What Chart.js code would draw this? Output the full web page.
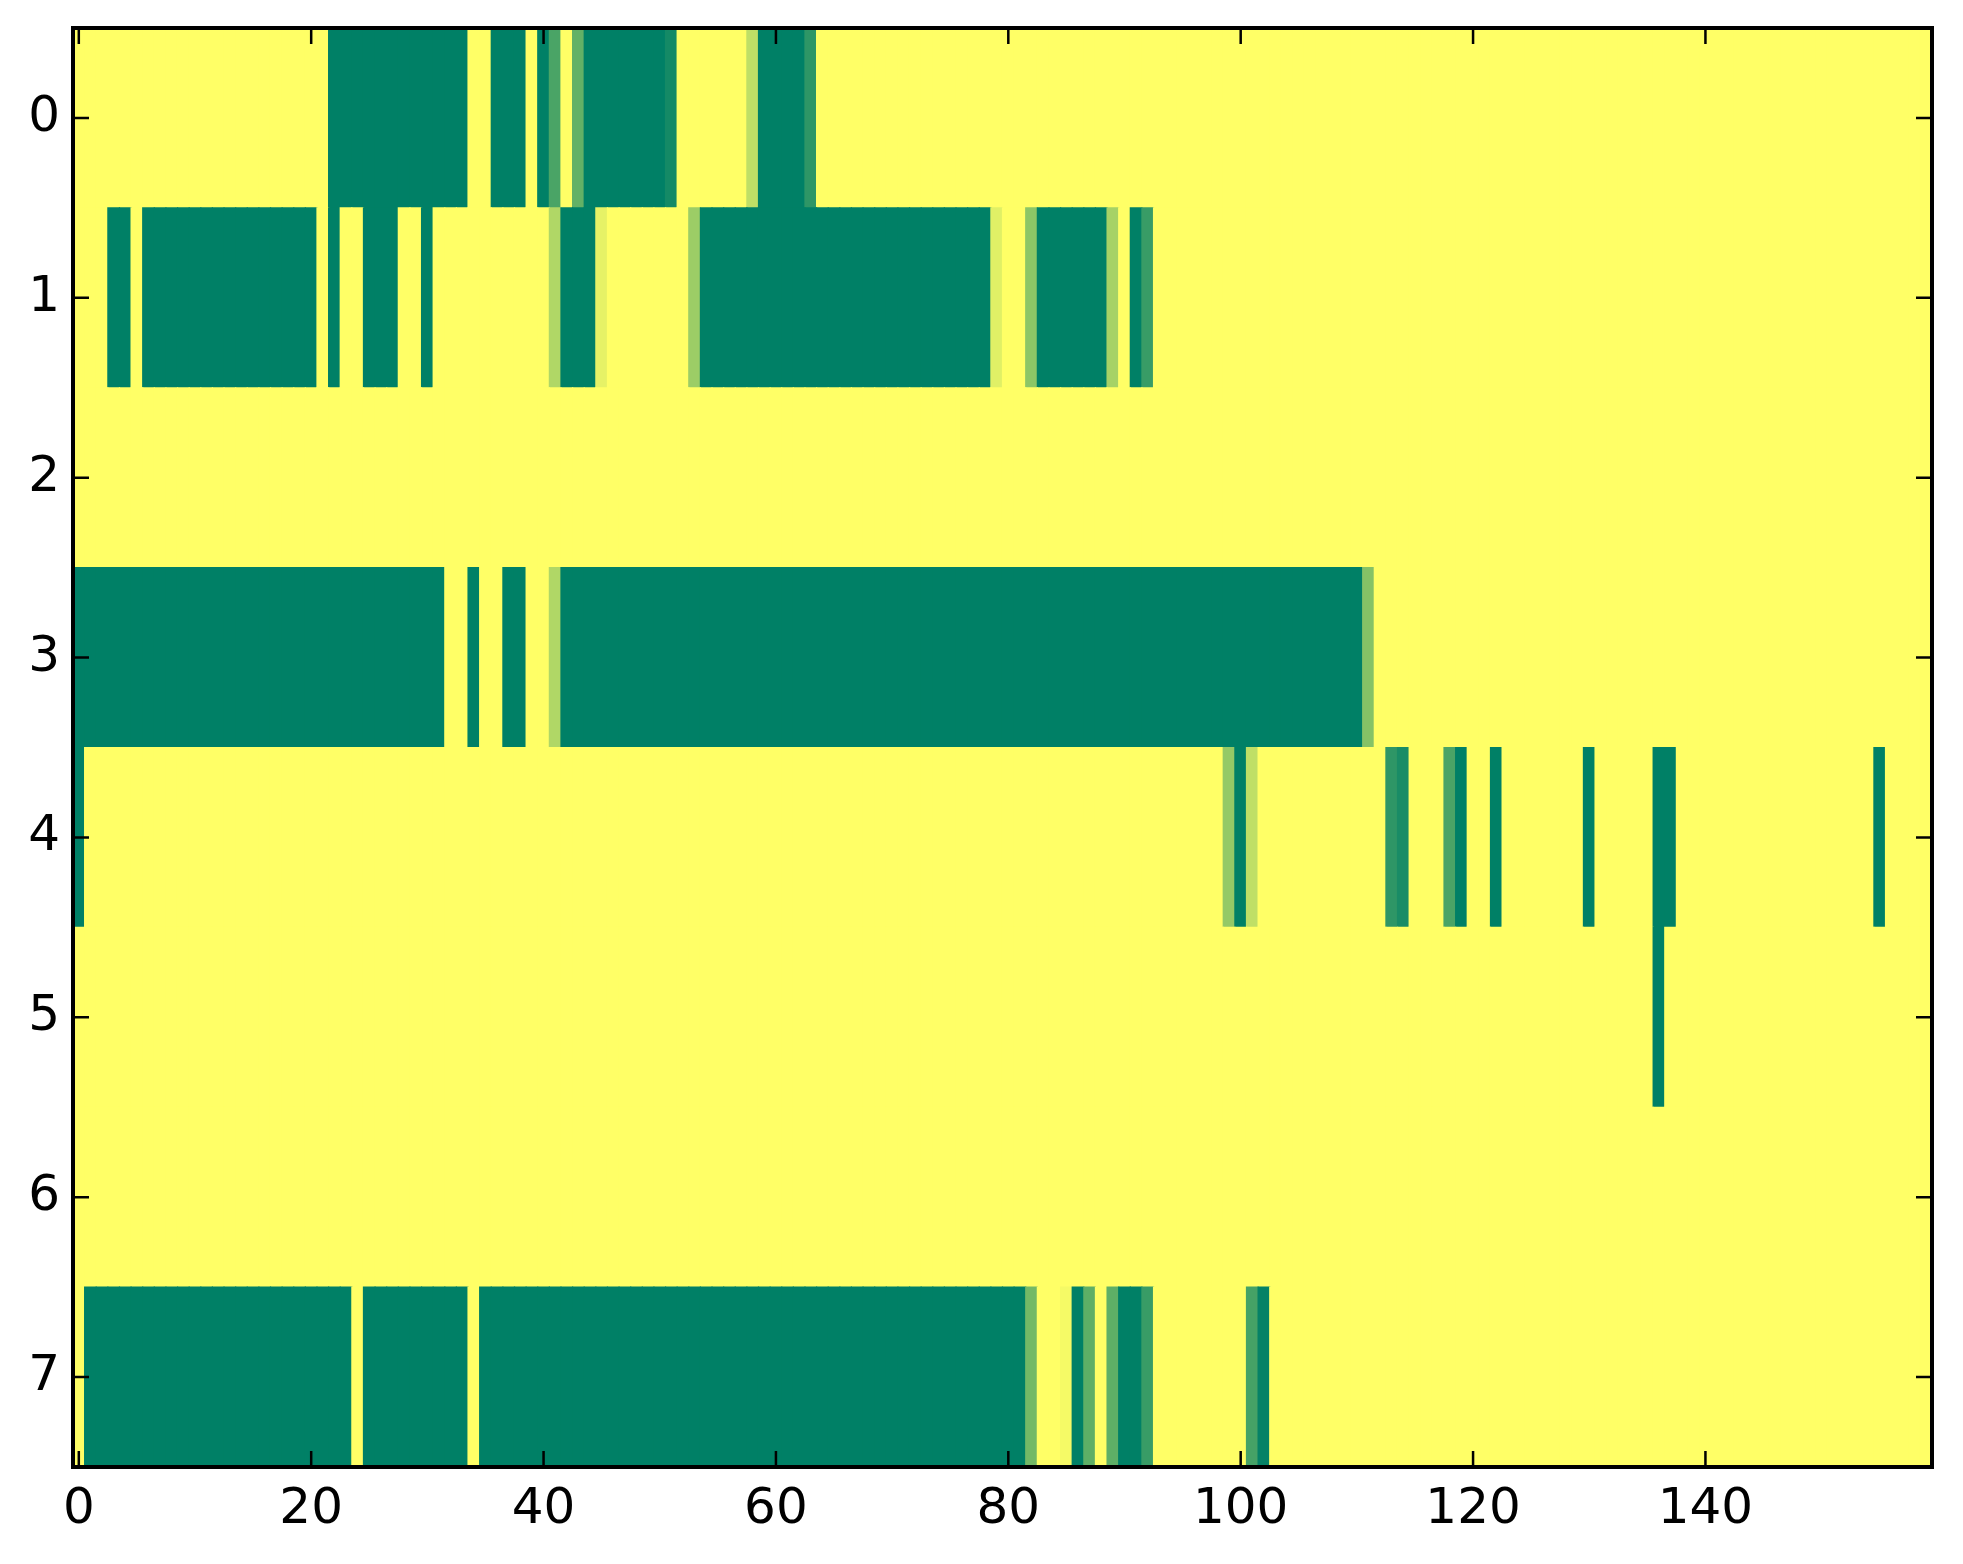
<!DOCTYPE html>
<html>
<head>
<meta charset="utf-8">
<script src="https://cdn.jsdelivr.net/npm/chart.js@4.4.1/dist/chart.umd.min.js"></script>
<style>
  html, body { margin: 0; padding: 0; background: #ffffff; }
  #wrap { width: 1963px; height: 1564px; position: relative; }
</style>
</head>
<body>
<div id="wrap"><canvas id="c"></canvas></div>
<script>
// Tick labels
const xTicks = [0, 20, 40, 60, 80, 100, 120, 140];
const yTicks = [0, 1, 2, 3, 4, 5, 6, 7];

// Cell values per row (160 columns each), colour-mapped with summer_r
const row0 = [
  0,0,0,0,0,0,0,0,0,0,0,0,0,0,0,0,0,0,0,0,
  0,0,1,1,1,1,1,1,1,1,1,1,1,1,0,0,1,1,1,0,
  1,.71,0,.61,1,1,1,1,1,1,1,.92,0,0,0,0,0,0,.25,1,
  1,1,1,.82,0,0,0,0,0,0,0,0,0,0,0,0,0,0,0,0,
  0,0,0,0,0,0,0,0,0,0,0,0,0,0,0,0,0,0,0,0,
  0,0,0,0,0,0,0,0,0,0,0,0,0,0,0,0,0,0,0,0,
  0,0,0,0,0,0,0,0,0,0,0,0,0,0,0,0,0,0,0,0,
  0,0,0,0,0,0,0,0,0,0,0,0,0,0,0,0,0,0,0,0
];
const row1 = [
  0,0,0,1,1,0,1,1,1,1,1,1,1,1,1,1,1,1,1,1,
  1,0,1,0,0,1,1,1,0,0,1,0,0,0,0,0,0,0,0,0,
  0,.31,1,1,1,.1,0,0,0,0,0,0,0,.39,1,1,1,1,1,1,
  1,1,1,1,1,1,1,1,1,1,1,1,1,1,1,1,1,1,1,.12,
  0,0,.45,1,1,1,1,1,1,.35,0,1,.78,0,0,0,0,0,0,0,
  0,0,0,0,0,0,0,0,0,0,0,0,0,0,0,0,0,0,0,0,
  0,0,0,0,0,0,0,0,0,0,0,0,0,0,0,0,0,0,0,0,
  0,0,0,0,0,0,0,0,0,0,0,0,0,0,0,0,0,0,0,0
];
const row2 = [
  0,0,0,0,0,0,0,0,0,0,0,0,0,0,0,0,0,0,0,0,
  0,0,0,0,0,0,0,0,0,0,0,0,0,0,0,0,0,0,0,0,
  0,0,0,0,0,0,0,0,0,0,0,0,0,0,0,0,0,0,0,0,
  0,0,0,0,0,0,0,0,0,0,0,0,0,0,0,0,0,0,0,0,
  0,0,0,0,0,0,0,0,0,0,0,0,0,0,0,0,0,0,0,0,
  0,0,0,0,0,0,0,0,0,0,0,0,0,0,0,0,0,0,0,0,
  0,0,0,0,0,0,0,0,0,0,0,0,0,0,0,0,0,0,0,0,
  0,0,0,0,0,0,0,0,0,0,0,0,0,0,0,0,0,0,0,0
];
const row3 = [
  1,1,1,1,1,1,1,1,1,1,1,1,1,1,1,1,1,1,1,1,
  1,1,1,1,1,1,1,1,1,1,1,1,0,0,1,0,0,1,1,0,
  0,.31,1,1,1,1,1,1,1,1,1,1,1,1,1,1,1,1,1,1,
  1,1,1,1,1,1,1,1,1,1,1,1,1,1,1,1,1,1,1,1,
  1,1,1,1,1,1,1,1,1,1,1,1,1,1,1,1,1,1,1,1,
  1,1,1,1,1,1,1,1,1,1,1,.48,0,0,0,0,0,0,0,0,
  0,0,0,0,0,0,0,0,0,0,0,0,0,0,0,0,0,0,0,0,
  0,0,0,0,0,0,0,0,0,0,0,0,0,0,0,0,0,0,0,0
];
const row4 = [
  1,0,0,0,0,0,0,0,0,0,0,0,0,0,0,0,0,0,0,0,
  0,0,0,0,0,0,0,0,0,0,0,0,0,0,0,0,0,0,0,0,
  0,0,0,0,0,0,0,0,0,0,0,0,0,0,0,0,0,0,0,0,
  0,0,0,0,0,0,0,0,0,0,0,0,0,0,0,0,0,0,0,0,
  0,0,0,0,0,0,0,0,0,0,0,0,0,0,0,0,0,0,0,.42,
  1,.25,0,0,0,0,0,0,0,0,0,0,0,.82,.9,0,0,0,.71,1,
  0,0,1,0,0,0,0,0,0,0,1,0,0,0,0,0,1,1,0,0,
  0,0,0,0,0,0,0,0,0,0,0,0,0,0,0,1,0,0,0,0
];
const row5 = [
  0,0,0,0,0,0,0,0,0,0,0,0,0,0,0,0,0,0,0,0,
  0,0,0,0,0,0,0,0,0,0,0,0,0,0,0,0,0,0,0,0,
  0,0,0,0,0,0,0,0,0,0,0,0,0,0,0,0,0,0,0,0,
  0,0,0,0,0,0,0,0,0,0,0,0,0,0,0,0,0,0,0,0,
  0,0,0,0,0,0,0,0,0,0,0,0,0,0,0,0,0,0,0,0,
  0,0,0,0,0,0,0,0,0,0,0,0,0,0,0,0,0,0,0,0,
  0,0,0,0,0,0,0,0,0,0,0,0,0,0,0,0,1,0,0,0,
  0,0,0,0,0,0,0,0,0,0,0,0,0,0,0,0,0,0,0,0
];
const row6 = [
  0,0,0,0,0,0,0,0,0,0,0,0,0,0,0,0,0,0,0,0,
  0,0,0,0,0,0,0,0,0,0,0,0,0,0,0,0,0,0,0,0,
  0,0,0,0,0,0,0,0,0,0,0,0,0,0,0,0,0,0,0,0,
  0,0,0,0,0,0,0,0,0,0,0,0,0,0,0,0,0,0,0,0,
  0,0,0,0,0,0,0,0,0,0,0,0,0,0,0,0,0,0,0,0,
  0,0,0,0,0,0,0,0,0,0,0,0,0,0,0,0,0,0,0,0,
  0,0,0,0,0,0,0,0,0,0,0,0,0,0,0,0,0,0,0,0,
  0,0,0,0,0,0,0,0,0,0,0,0,0,0,0,0,0,0,0,0
];
const row7 = [
  0,1,1,1,1,1,1,1,1,1,1,1,1,1,1,1,1,1,1,1,
  1,1,1,1,0,1,1,1,1,1,1,1,1,1,0,1,1,1,1,1,
  1,1,1,1,1,1,1,1,1,1,1,1,1,1,1,1,1,1,1,1,
  1,1,1,1,1,1,1,1,1,1,1,1,1,1,1,1,1,1,1,1,
  1,1,.55,0,0,.04,1,.63,0,.63,1,1,.78,0,0,0,0,0,0,0,
  0,.73,.98,0,0,0,0,0,0,0,0,0,0,0,0,0,0,0,0,0,
  0,0,0,0,0,0,0,0,0,0,0,0,0,0,0,0,0,0,0,0,
  0,0,0,0,0,0,0,0,0,0,0,0,0,0,0,0,0,0,0,0
];
const rows = [row0, row1, row2, row3, row4, row5, row6, row7];

// summer_r colormap
function summerR(v) {
  const r = Math.round(255 * (1 - v));
  const g = Math.round(255 * (1 - 0.5 * v));
  return 'rgb(' + r + ',' + g + ',102)';
}

const cells = [];
rows.forEach((r, yi) => r.forEach((v, xi) => cells.push({ x: [xi - 0.5, xi + 0.5], y: yi, v: v })));

const FONT = { family: "'DejaVu Sans', sans-serif", size: 50 };

const framePlugin = {
  id: 'frame',
  afterDatasetsDraw(chart) {
    const { ctx, chartArea: a, scales } = chart;
    const xs = scales.x, ys = scales.y;
    const L = 16;
    ctx.save();
    ctx.strokeStyle = '#000';
    ctx.lineWidth = 2.5;
    ctx.beginPath();
    xTicks.forEach(t => {
      const px = xs.getPixelForValue(t);
      ctx.moveTo(px, a.bottom); ctx.lineTo(px, a.bottom - L);
      ctx.moveTo(px, a.top); ctx.lineTo(px, a.top + L);
    });
    yTicks.forEach(t => {
      const py = ys.getPixelForValue(t);
      ctx.moveTo(a.left, py); ctx.lineTo(a.left + L, py);
      ctx.moveTo(a.right, py); ctx.lineTo(a.right - L, py);
    });
    ctx.stroke();
    ctx.lineWidth = 4;
    ctx.strokeRect(a.left, a.top, a.right - a.left, a.bottom - a.top);
    ctx.restore();
  }
};

new Chart(document.getElementById('c'), {
  type: 'bar',
  data: {
    datasets: [{
      data: cells,
      backgroundColor: ctx => summerR(ctx.raw ? ctx.raw.v : 0),
      borderWidth: 0,
      barPercentage: 1,
      categoryPercentage: 1,
      inflateAmount: 0.6
    }]
  },
  options: {
    indexAxis: 'y',
    responsive: true,
    maintainAspectRatio: false,
    animation: false,
    devicePixelRatio: 1,
    layout: { padding: { top: 28, right: 31, left: 0, bottom: 0 } },
    plugins: { legend: { display: false }, tooltip: { enabled: false } },
    scales: {
      x: {
        type: 'linear',
        position: 'bottom',
        min: -0.5,
        max: 159.5,
        offset: false,
        grid: { display: false, drawTicks: false, offset: false },
        border: { display: false },
        ticks: { color: '#000', font: FONT, padding: 13, maxRotation: 0, autoSkip: false },
        afterBuildTicks: s => { s.ticks = xTicks.map(v => ({ value: v })); },
        afterFit: s => { s.height = 97; s.paddingLeft = 0; s.paddingRight = 0; }
      },
      y: {
        type: 'linear',
        position: 'left',
        min: -0.5,
        max: 7.5,
        reverse: true,
        offset: false,
        grid: { display: false, drawTicks: false, offset: false },
        border: { display: false },
        ticks: { color: '#000', font: FONT, padding: 13, autoSkip: false },
        afterBuildTicks: s => { s.ticks = yTicks.map(v => ({ value: v })); },
        afterFit: s => { s.width = 73; s.paddingTop = 0; s.paddingBottom = 0; }
      }
    }
  },
  plugins: [framePlugin]
});
</script>
</body>
</html>
